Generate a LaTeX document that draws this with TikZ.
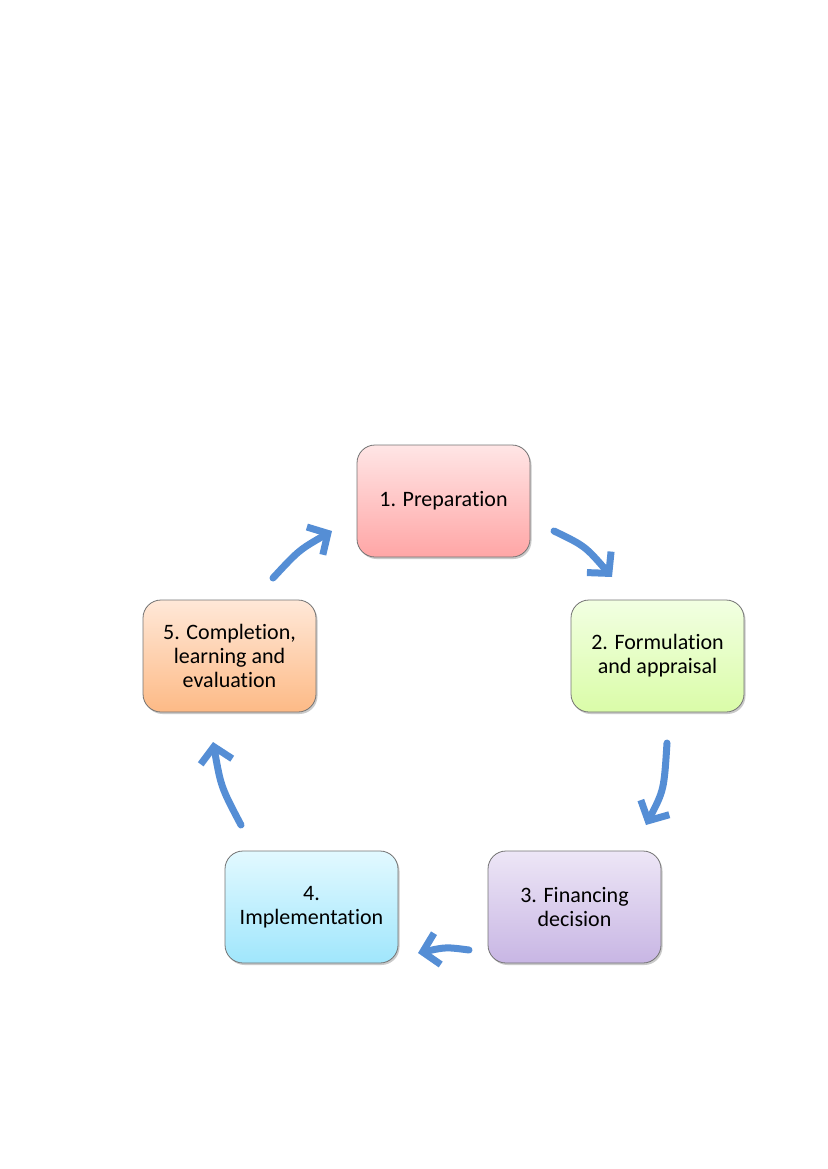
\documentclass[tikz,border=0pt]{standalone}
\usepackage{fontspec}
\setmainfont[Ligatures=NoCommon]{Carlito}
\usetikzlibrary{arrows.meta,shadows}
\definecolor{arrowblue}{HTML}{558ED5}
\tikzset{
  stage/.style={rounded corners=18pt, minimum width=173pt, minimum height=112pt,
    draw=black!55, line width=0.8pt, align=center, font=\fontsize{22pt}{24pt}\selectfont,
    drop shadow={shadow xshift=1.5pt, shadow yshift=-2pt, opacity=0.35, fill=black!60}},
  flow/.style={draw=arrowblue, line width=7pt, line cap=round,
    -{Straight Barb[length=15pt, width=32pt, line width=7pt]}}
}
\begin{document}
\begin{tikzpicture}[x=1pt,y=-1pt]
\useasboundingbox (0,0) rectangle (827,1169);
\node[stage, top color=red!10, bottom color=red!35!white] (s1) at (443.5,501) {1. Preparation};
\node[stage, top color={rgb,255:red,242;green,255;blue,226}, bottom color={rgb,255:red,218;green,252;blue,168}] (s2) at (657.5,656) {2. Formulation\\and appraisal};
\node[stage, top color={rgb,255:red,237;green,230;blue,246}, bottom color={rgb,255:red,200;green,182;blue,228}] (s3) at (574.5,907) {3. Financing\\decision};
\node[stage, top color={rgb,255:red,226;green,249;blue,255}, bottom color={rgb,255:red,160;green,230;blue,252}] (s4) at (311.5,907) {4.\\Implementation};
\node[stage, top color={rgb,255:red,255;green,232;blue,216}, bottom color={rgb,255:red,253;green,186;blue,134}] (s5) at (229.5,656) {5. Completion,\\learning and\\evaluation};
\coordinate (a1s) at (554,531);
\coordinate (a1e) at (612,577);
\coordinate (a2s) at (667,743);
\coordinate (a2e) at (646,825);
\coordinate (a3s) at (469,950);
\coordinate (a3e) at (418,953);
\coordinate (a4s) at (241,825);
\coordinate (a4e) at (213,742);
\coordinate (a5s) at (273,578);
\coordinate (a5e) at (332,531);
\draw[flow] (a1s) .. controls (585,546) .. (a1e);
\draw[flow] (a2s) .. controls (664,790) .. (a2e);
\draw[flow] (a3s) .. controls (446,947) .. (a3e);
\draw[flow] (a4s) .. controls (221,787) .. (a4e);
\draw[flow] (a5s) .. controls (299,550) .. (a5e);
\end{tikzpicture}
\end{document}
